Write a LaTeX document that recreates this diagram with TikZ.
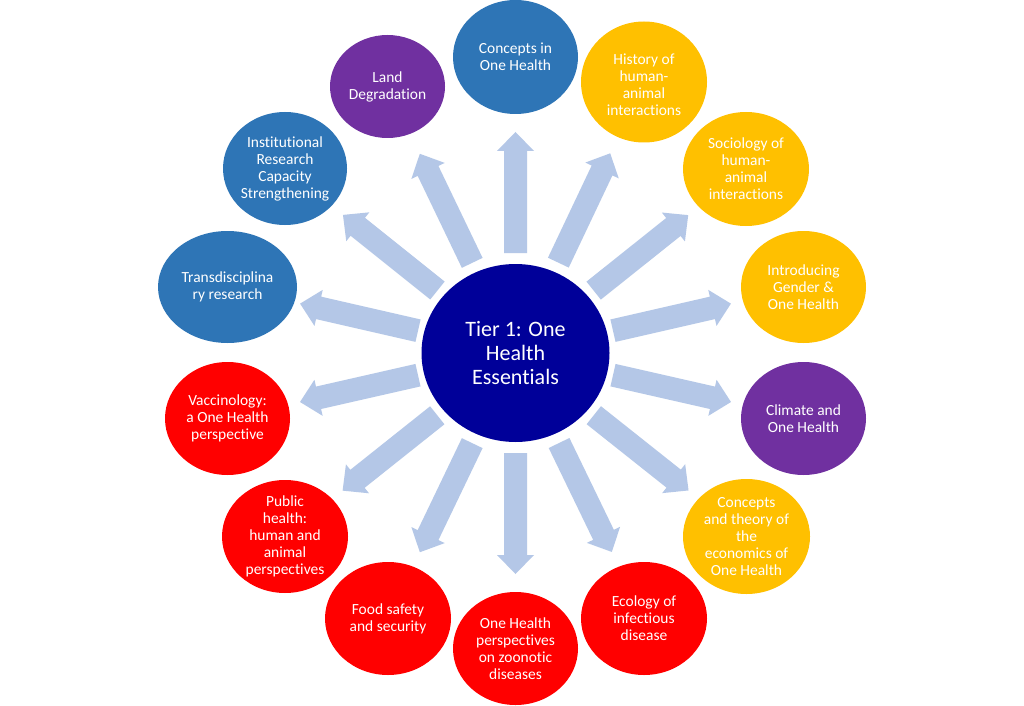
\documentclass[tikz,border=0pt]{standalone}
\usepackage{fontspec}
\setmainfont{Carlito}[Ligatures=NoCommon]
\usetikzlibrary{calc,shapes.geometric}
\definecolor{ohblue}{HTML}{2E75B6}
\definecolor{ohyellow}{HTML}{FFC000}
\definecolor{ohpurple}{HTML}{7030A0}
\definecolor{ohred}{HTML}{FF0000}
\definecolor{ohnavy}{HTML}{000099}
\definecolor{ohlight}{HTML}{B4C7E7}
\begin{document}
\begin{tikzpicture}[x=0.75pt,y=-0.75pt,
  bub/.style 2 args={ellipse, draw=none, inner sep=0pt, minimum width={#1*1.5pt}, minimum height={#2*1.5pt}},
  txt/.style={text=white, align=center, inner sep=0pt, font=\fontsize{11.6pt}{12.75pt}\selectfont},
  ctxt/.style={text=white, align=center, inner sep=0pt, font=\fontsize{16.5pt}{18pt}\selectfont},
  blockarrow/.style={fill=ohlight, draw=none}]
\fill[white] (0,0) rectangle (1024,706);
\useasboundingbox (0,0) rectangle (1024,706);

\node[bub={94}{89}, fill=ohnavy] (c) at (515.5,353) {};
\node[ctxt] (ct) at (c) {Tier 1: One\\Health\\Essentials};

\node[bub={62.5}{57}, fill=ohblue] (n1) at (515.5,57) {};
\node[txt] (t1) at (n1) {Concepts in\\One Health};
\node[bub={63}{60.5}, fill=ohyellow] (n2) at (644,82) {};
\node[txt] (t2) at ($(n2)+(0,3)$) {History of\\human-\\animal\\interactions};
\node[bub={63}{57}, fill=ohyellow] (n3) at (746,169) {};
\node[txt] (t3) at (n3) {Sociology of\\human-\\animal\\interactions};
\node[bub={62.5}{56}, fill=ohyellow] (n4) at (803.5,287) {};
\node[txt] (t4) at (n4) {Introducing\\Gender \&\\One Health};
\node[bub={62.5}{56.5}, fill=ohpurple] (n5) at (803.5,418.5) {};
\node[txt] (t5) at (n5) {Climate and\\One Health};
\node[bub={63.5}{57.5}, fill=ohyellow] (n6) at (746.5,536.5) {};
\node[txt] (t6) at (n6) {Concepts\\and theory of\\the\\economics of\\One Health};
\node[bub={63}{56.5}, fill=ohred] (n7) at (644,618.5) {};
\node[txt] (t7) at (n7) {Ecology of\\infectious\\disease};
\node[bub={62.5}{56.5}, fill=ohred] (n8) at (515.5,648.5) {};
\node[txt] (t8) at (n8) {One Health\\perspectives\\on zoonotic\\diseases};
\node[bub={63}{56.5}, fill=ohred] (n9) at (388,618.5) {};
\node[txt] (t9) at (n9) {Food safety\\and security};
\node[bub={63}{56.5}, fill=ohred] (n10) at (285,536.5) {};
\node[txt] (t10) at (n10) {Public\\health:\\human and\\animal\\perspectives};
\node[bub={62.5}{56.5}, fill=ohred] (n11) at (227.5,418.5) {};
\node[txt] (t11) at (n11) {Vaccinology:\\a One Health\\perspective};
\node[bub={69.5}{56}, fill=ohblue] (n12) at (227.5,287) {};
\node[txt] (t12) at (n12) {Transdisciplina\\ry research};
\node[bub={62}{56.5}, fill=ohblue] (n13) at (285,168.5) {};
\node[txt] (t13) at (n13) {Institutional\\Research\\Capacity\\Strengthening};
\node[bub={57.5}{51.5}, fill=ohpurple] (n14) at (387.5,86.5) {};
\node[txt] (t14) at (n14) {Land\\Degradation};

% block arrows: start 100px, head base 202px, tip 221px from centre
\foreach \n in {n1,n2,n3,n4,n5,n6,n7,n8,n9,n10,n11,n12,n13,n14}{
  \coordinate (aS) at ($(c)!75pt!(\n)$);
  \coordinate (aH) at ($(c)!151.5pt!(\n)$);
  \coordinate (aT) at ($(c)!165.75pt!(\n)$);
  \fill[blockarrow]
    ($(aS)!8.625pt!90:(\n)$) -- ($(aH)!8.625pt!90:(\n)$) -- ($(aH)!13.875pt!90:(\n)$)
    -- (aT) --
    ($(aH)!13.875pt!-90:(\n)$) -- ($(aH)!8.625pt!-90:(\n)$) -- ($(aS)!8.625pt!-90:(\n)$) -- cycle;
}
\end{tikzpicture}
\end{document}
